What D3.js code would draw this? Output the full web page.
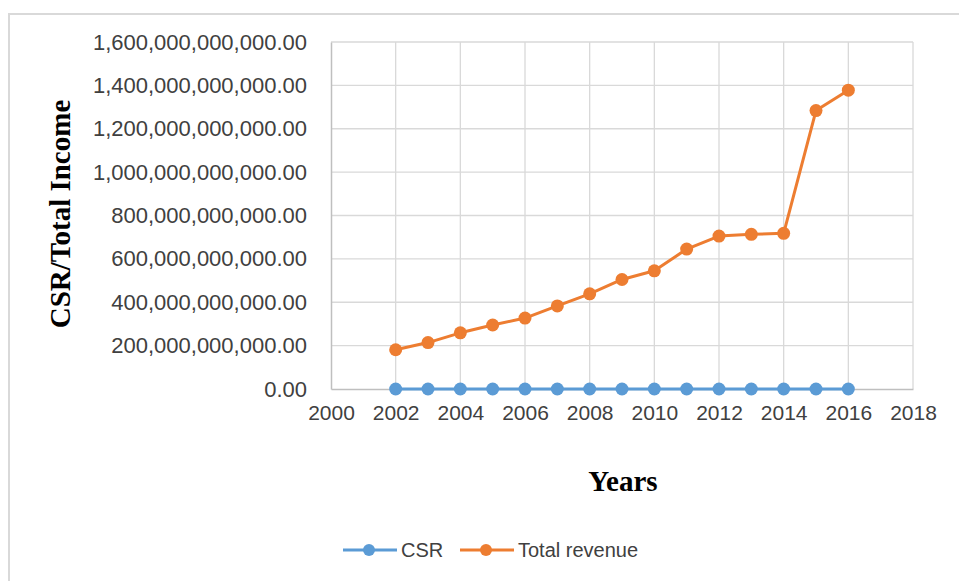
<!DOCTYPE html>
<html>
<head>
<meta charset="utf-8">
<script src="https://d3js.org/d3.v7.min.js"></script>
<style>
  body { margin: 0; background: #fff; }
</style>
</head>
<body>
<div id="chart"></div>
<script>
// data
var years = [2002, 2003, 2004, 2005, 2006, 2007, 2008, 2009, 2010, 2011, 2012, 2013, 2014, 2015, 2016];
var csr = [0, 0, 0, 0, 0, 0, 0, 0, 0, 0, 0, 0, 0, 0, 0];
var totalRevenue = [181e9, 214e9, 259e9, 295e9, 327e9, 383e9, 439e9, 505e9, 545e9, 645e9, 705e9, 713e9, 718e9, 1284e9, 1378e9];
var xTicks = [2000, 2002, 2004, 2006, 2008, 2010, 2012, 2014, 2016, 2018];
var yTicks = [0, 200e9, 400e9, 600e9, 800e9, 1000e9, 1200e9, 1400e9, 1600e9];
var seriesNames = ["CSR", "Total revenue"];
var seriesColors = ["#5b9bd5", "#ed7d31"];

var W = 959, H = 581;
var margin = { top: 42, right: 46, bottom: 192, left: 331 },
  width = W - margin.left - margin.right,
  height = H - margin.top - margin.bottom;

var svg = d3.select("#chart").append("svg")
  .attr("width", W)
  .attr("height", H);

// outer chart frame (only top and left visible)
svg.append("path")
  .attr("d", "M9," + H + "V14H" + W)
  .attr("fill", "none")
  .attr("stroke", "#d9d9d9")
  .attr("stroke-width", 2);

var g = svg.append("g")
  .attr("transform", "translate(" + margin.left + "," + margin.top + ")");

var x = d3.scaleLinear().domain([2000, 2018]).range([0, width]);
var y = d3.scaleLinear().domain([0, 1600e9]).range([height, 0]);

// gridlines
g.append("g").selectAll("line").data(yTicks.slice(1)).enter().append("line")
  .attr("x1", 0).attr("x2", width)
  .attr("y1", (d) => y(d)).attr("y2", (d) => y(d))
  .attr("stroke", "#d9d9d9").attr("stroke-width", 1.3);
g.append("g").selectAll("line").data(xTicks.slice(1)).enter().append("line")
  .attr("x1", (d) => x(d)).attr("x2", (d) => x(d))
  .attr("y1", 0).attr("y2", height)
  .attr("stroke", "#d9d9d9").attr("stroke-width", 1.3);

// axes
var fmt = d3.format(",.2f");
var yAxis = g.append("g")
  .call(d3.axisLeft(y).tickValues(yTicks).tickFormat(fmt).tickSize(0).tickPadding(24));
var xAxis = g.append("g")
  .attr("transform", "translate(0," + height + ")")
  .call(d3.axisBottom(x).tickValues(xTicks).tickFormat(d3.format("d")).tickSize(0).tickPadding(16));

yAxis.select(".domain").attr("stroke", "#bfbfbf").attr("stroke-width", 1.5);
xAxis.select(".domain").attr("stroke", "#bfbfbf").attr("stroke-width", 1.5);
yAxis.selectAll("text")
  .attr("fill", "#404040")
  .style("font-family", "'Liberation Sans Narrow', 'Arial Narrow', sans-serif")
  .style("font-size", "22px");
xAxis.selectAll("text")
  .attr("fill", "#404040")
  .style("font-family", "'Liberation Sans Narrow', 'Arial Narrow', sans-serif")
  .style("font-size", "21px");

// axis titles
svg.append("text")
  .attr("transform", "translate(70,214) rotate(-90)")
  .attr("text-anchor", "middle")
  .style("font-family", "'Liberation Serif', 'Times New Roman', serif")
  .style("font-weight", "bold")
  .style("font-size", "29px")
  .attr("fill", "#000")
  .text("CSR/Total Income");

svg.append("text")
  .attr("x", 623).attr("y", 491)
  .attr("text-anchor", "middle")
  .style("font-family", "'Liberation Serif', 'Times New Roman', serif")
  .style("font-weight", "bold")
  .style("font-size", "29px")
  .attr("fill", "#000")
  .text("Years");

// series
var series = [csr, totalRevenue];
var line = d3.line().x((d, i) => x(years[i])).y((d) => y(d));

series.forEach(function (vals, k) {
  g.append("path")
    .datum(vals)
    .attr("fill", "none")
    .attr("stroke", seriesColors[k])
    .attr("stroke-width", 3)
    .attr("stroke-linejoin", "round")
    .attr("d", line);
  g.append("g").selectAll("circle").data(vals).enter().append("circle")
    .attr("cx", (d, i) => x(years[i]))
    .attr("cy", (d) => y(d))
    .attr("r", 6.5)
    .attr("fill", seriesColors[k]);
});

// legend
var legendX = [343, 460];
var legend = svg.append("g");
seriesNames.forEach(function (name, k) {
  var lg = legend.append("g").attr("transform", "translate(" + legendX[k] + ",550)");
  lg.append("line").attr("x1", 0).attr("x2", 54).attr("y1", 0).attr("y2", 0)
    .attr("stroke", seriesColors[k]).attr("stroke-width", 3);
  lg.append("circle").attr("cx", 26).attr("cy", 0).attr("r", 6).attr("fill", seriesColors[k]);
  lg.append("text").attr("x", 58).attr("y", 0).attr("dy", "0.35em")
    .attr("fill", "#404040")
    .style("font-family", "'Liberation Sans Narrow', 'Arial Narrow', sans-serif")
    .style("font-size", "20px")
    .text(name);
});
</script>
</body>
</html>
